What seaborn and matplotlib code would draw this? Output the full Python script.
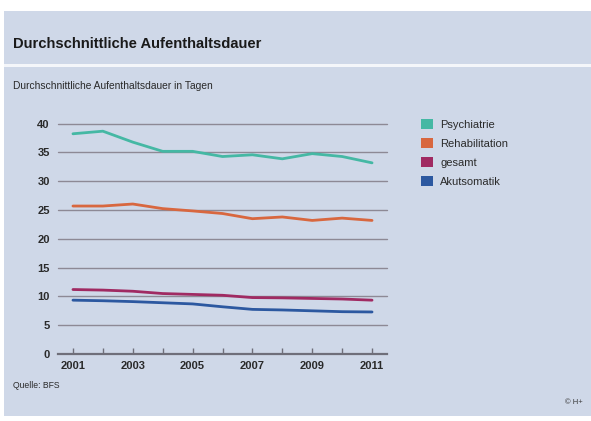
import numpy as np
import pandas as pd
import matplotlib
matplotlib.use("Agg")
import matplotlib.pyplot as plt
from matplotlib.patches import Patch, Rectangle
import seaborn as sns

years = [2001, 2002, 2003, 2004, 2005, 2006, 2007, 2008, 2009, 2010, 2011]
psychiatrie = [38.25, 38.7, 36.8, 35.2, 35.2, 34.3, 34.6, 33.9, 34.8, 34.3, 33.2]
rehabilitation = [25.7, 25.7, 26.05, 25.25, 24.85, 24.4, 23.5, 23.8, 23.2, 23.6, 23.2]
gesamt = [11.2, 11.1, 10.9, 10.5, 10.35, 10.2, 9.8, 9.75, 9.65, 9.55, 9.35]
akutsomatik = [9.35, 9.25, 9.1, 8.9, 8.7, 8.2, 7.75, 7.65, 7.5, 7.35, 7.3]
series_names = ["Psychiatrie", "Rehabilitation", "gesamt", "Akutsomatik"]
colors = ["#45b8a4", "#d8673f", "#a02a62", "#2c58a0"]
y_ticks = [0, 5, 10, 15, 20, 25, 30, 35, 40]
x_ticks_labels = [2001, 2003, 2005, 2007, 2009, 2011]

df = pd.DataFrame({
    "Jahr": years * 4,
    "Tage": psychiatrie + rehabilitation + gesamt + akutsomatik,
    "Serie": sum([[n] * len(years) for n in series_names], []),
})

sns.set_theme(style="white")
plt.rcParams["font.family"] = ["Liberation Sans", "DejaVu Sans"]

W, H = 591, 421
fig = plt.figure(figsize=(W / 100, H / 100), dpi=100)
fig.patch.set_facecolor("white")
bg = "#cfd8e8"
# panel background
fig.patches.append(Rectangle((4 / W, 1 - 416 / H), (W - 4) / W, (416 - 11) / H,
                             transform=fig.transFigure, facecolor=bg, edgecolor="none", zorder=-5))
# white separator line
fig.patches.append(Rectangle((4 / W, 1 - 67 / H), (W - 4) / W, 2.5 / H,
                             transform=fig.transFigure, facecolor="#f4f6fa", edgecolor="none", zorder=-4))

ax = fig.add_axes([58 / W, 1 - 354 / H, 329 / W, (354 - 123.7) / H])
ax.set_zorder(5)
ax.set_facecolor("none")

palette = dict(zip(series_names, colors))
sns.lineplot(data=df, x="Jahr", y="Tage", hue="Serie", palette=palette,
             linewidth=2.0, ax=ax, legend=False, zorder=3)

ax.set_xlim(2000.5, 2011.5)
ax.set_ylim(0, 40)
ax.set_yticks(y_ticks)
ax.set_xticks(years)
ax.set_xticklabels([str(y) if y in x_ticks_labels else "" for y in years])
for y in y_ticks[1:]:
    ax.axhline(y, color="#8d8995", lw=1.0, zorder=1, clip_on=False)
for s in ["top", "right", "left"]:
    ax.spines[s].set_visible(False)
ax.spines["bottom"].set_color("#6f6f7a")
ax.spines["bottom"].set_linewidth(1.6)
ax.spines["bottom"].set_zorder(4)
ax.tick_params(axis="x", direction="in", length=4, width=1, color="#6f6f7a",
               labelsize=8, labelcolor="#2a2a2a", pad=5, bottom=True)
ax.tick_params(axis="y", length=0, labelsize=8, labelcolor="#2a2a2a", pad=6)
for lab in ax.get_xticklabels() + ax.get_yticklabels():
    lab.set_fontweight("bold")
ax.set_xlabel("")
ax.set_ylabel("")

handles = [Patch(facecolor=c, edgecolor="none", label=n) for n, c in zip(series_names, colors)]
leg = fig.legend(handles=handles, loc="upper left", bbox_to_anchor=(421 / W, 1 - 119 / H),
                 frameon=False, fontsize=8, handlelength=1.05, handleheight=1.0,
                 handletextpad=0.7, labelspacing=0.75, borderaxespad=0, borderpad=0)
for t in leg.get_texts():
    t.set_color("#2a2a2a")

fig.text(13 / W, 1 - 44 / H, "Durchschnittliche Aufenthaltsdauer", fontsize=10.6,
         fontweight="bold", color="#1a1a1a", va="center", ha="left")
fig.text(13 / W, 1 - 86 / H, "Durchschnittliche Aufenthaltsdauer in Tagen", fontsize=7.4,
         color="#2a2a2a", va="center", ha="left")
fig.text(13 / W, 1 - 386 / H, "Quelle: BFS", fontsize=6.2, color="#2a2a2a", va="center", ha="left")
fig.text(574 / W, 1 - 403 / H, "© H+", fontsize=5.5, color="#3a3a3a", va="center", ha="center")

fig.savefig("out.png", dpi=100, facecolor=fig.get_facecolor())
